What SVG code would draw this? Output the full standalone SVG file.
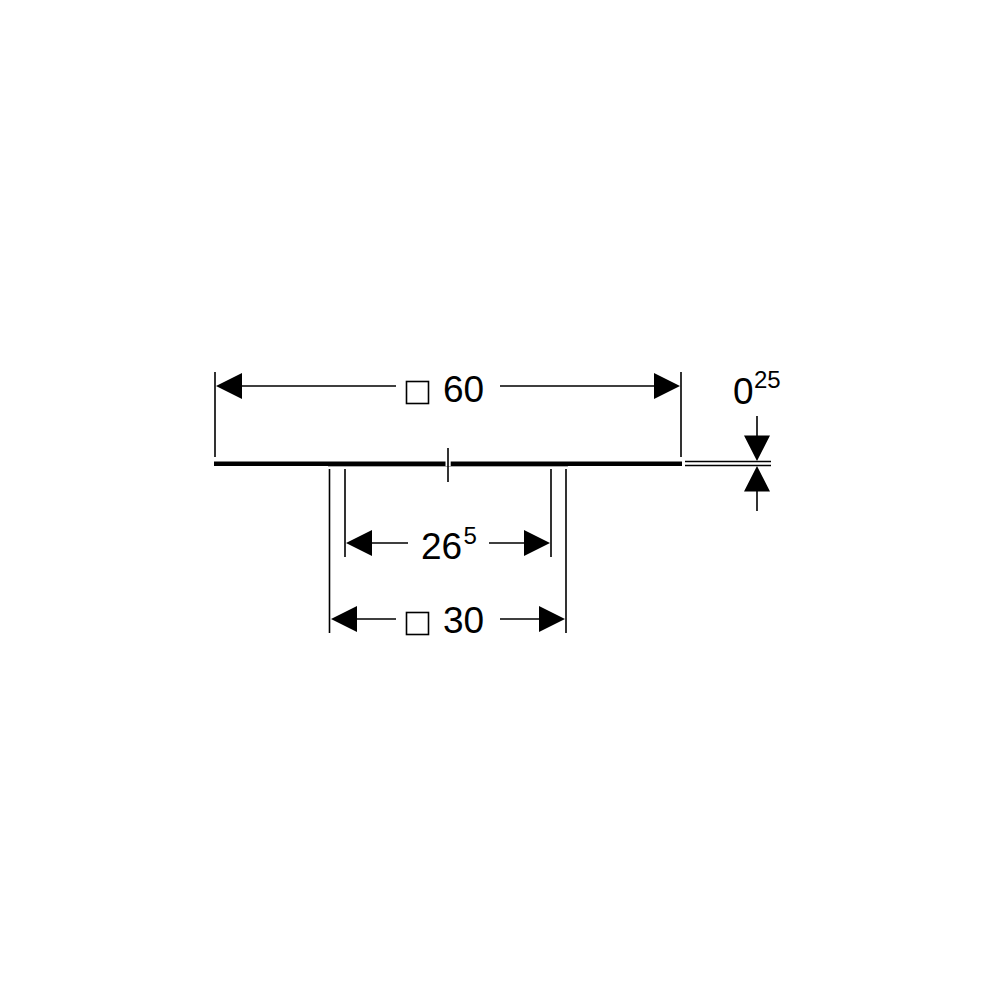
<svg xmlns="http://www.w3.org/2000/svg" width="1000" height="1000" viewBox="0 0 1000 1000">
<style>
.l{stroke:#000;stroke-width:1.6;fill:none}
.t{stroke:#000;stroke-width:4.6;fill:none}
.a{fill:#000;stroke:none}
.s{fill:#fff;stroke:#000;stroke-width:1.6}
.f{stroke:#aaa;stroke-width:1;fill:none}
text{font-family:"Liberation Sans",Arial,sans-serif;fill:#000}
.n{font-size:37px}
.u{font-size:24px}
</style>
<rect width="1000" height="1000" fill="#fff"/>
<g id="plate">
<path class="f" d="M328 466.500H568"/>
<path class="t" d="M214 463.700H445.500M450.700 463.700H682"/>
<path class="l" d="M448 448V482"/>
<path class="l" d="M685 461.500H771M685 465.500H771"/>
</g>
<g id="connectors">
<path class="l" d="M215 372V457M681 372V457"/>
<path class="l" d="M242 386H396M500 386H654"/>
<path class="a" d="M216 386L242 373V399ZM680 386L654 373V399Z"/>
<path class="l" d="M329.500 469V633M566 469V633M345 469V557M551 469V557"/>
<path class="l" d="M371 543H408M489 543H525"/>
<path class="a" d="M346 543L372 530V556ZM550 543L524 530V556Z"/>
<path class="l" d="M356 619H396M500 619H540"/>
<path class="a" d="M331 619L357 606V632ZM565 619L539 606V632Z"/>
<path class="l" d="M757 416V436M757 491V511"/>
<path class="a" d="M757 461L744 435.500H770ZM757 466L744 491.500H770Z"/>
</g>
<g id="label-60">
<rect class="s" x="406.500" y="381.500" width="22" height="22"/>
<text class="n" x="443" y="401.500">60</text>
</g>
<g id="label-30">
<rect class="s" x="406.500" y="612.500" width="22" height="22"/>
<text class="n" x="443" y="632.500">30</text>
</g>
<g id="label-26-5">
<text class="n" x="421" y="559">26</text>
<text class="u" x="463.500" y="543.500">5</text>
</g>
<g id="label-0-25">
<text class="n" x="733" y="404">0</text>
<text class="u" x="754" y="388">25</text>
</g>
</svg>
